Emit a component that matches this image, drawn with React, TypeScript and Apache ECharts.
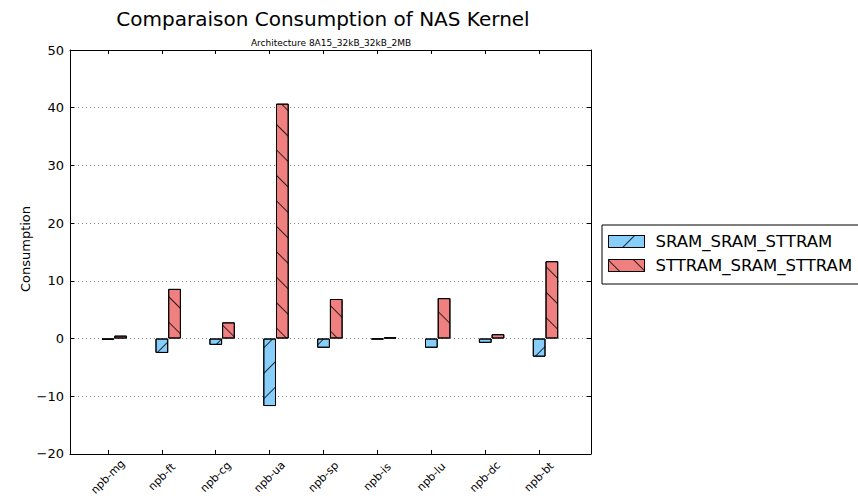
import React, { useEffect, useRef } from "react";
import * as echarts from "echarts";

const categories = ["npb-mg", "npb-ft", "npb-cg", "npb-ua", "npb-sp", "npb-is", "npb-lu", "npb-dc", "npb-bt"];
const sramValues = [-0.2, -2.5, -1.1, -11.7, -1.6, -0.15, -1.6, -0.75, -3.15];
const sttramValues = [0.5, 8.6, 2.8, 40.7, 6.85, 0.2, 7.0, 0.75, 13.4];
const seriesNames = ["SRAM_SRAM_STTRAM", "STTRAM_SRAM_STTRAM"];
const titleText = "Comparaison Consumption of NAS Kernel";
const subtitleText = "Architecture 8A15_32kB_32kB_2MB";
const yAxisTitle = "Consumption";

const FONT = "DejaVu Sans";
const TICK_SHIFT = -0.118;

export default function App() {
  const ref = useRef<HTMLDivElement>(null);
  useEffect(() => {
    if (!ref.current) return;
    const chart = echarts.init(ref.current, undefined, { renderer: "svg" });
    const tickValues = categories.map((_, i) => i + TICK_SHIFT);
    const labelFor = (v: number) => {
      const idx = Math.round(v - TICK_SHIFT);
      return categories[idx] ?? "";
    };
    const xMin = -0.822;
    const xMax = 8.844;
    const decal = (rot: number) => ({
      symbol: "rect",
      symbolSize: 1,
      color: "rgba(0,0,0,0.8)",
      dashArrayX: [1, 0],
      dashArrayY: [1, 17],
      rotation: rot,
    });
    chart.setOption({
      animation: false,
      backgroundColor: "#fff",
      textStyle: { fontFamily: FONT },
      grid: { left: 70, right: 267, top: 50, bottom: 42 },
      graphic: [
        {
          type: "text",
          x: 323,
          y: 19,
          style: { text: titleText, fontSize: 20, fontFamily: FONT, fill: "#000", align: "center", verticalAlign: "middle" },
        },
        {
          type: "text",
          x: 331,
          y: 43,
          style: { text: subtitleText, fontSize: 9, fontFamily: FONT, fill: "#000", align: "center", verticalAlign: "middle" },
        },
        {
          type: "text",
          x: 25,
          y: 249,
          rotation: Math.PI / 2,
          style: { text: yAxisTitle, fontSize: 13, fontFamily: FONT, fill: "#000", align: "center", verticalAlign: "middle" },
        },
      ],
      legend: {
        orient: "vertical",
        left: 602,
        top: 225,
        borderColor: "#000",
        borderWidth: 1,
        backgroundColor: "#fff",
        padding: [8, 14, 10, 6],
        itemWidth: 36,
        itemHeight: 12,
        itemGap: 7,
        icon: "rect",
        itemStyle: { borderColor: "#000", borderWidth: 1 },
        textStyle: { fontSize: 16.5, fontFamily: FONT, color: "#000", padding: [0, 0, 0, 6], lineHeight: 16 },
        data: seriesNames,
      },
      xAxis: [
        {
          type: "value",
          position: "bottom",
          min: xMin,
          max: xMax,
          axisLine: { show: true, onZero: false, lineStyle: { color: "#000", width: 1 } },
          axisTick: { show: true, inside: true, length: 4, customValues: tickValues, lineStyle: { color: "#000" } },
          axisLabel: {
            show: true,
            customValues: tickValues,
            formatter: (v: number) => labelFor(v),
            rotate: 45,
            align: "center",
            verticalAlign: "middle",
            margin: 23,
            fontSize: 11,
            fontFamily: FONT,
            color: "#000",
          },
          splitLine: { show: false },
        },
        {
          type: "value",
          position: "top",
          min: xMin,
          max: xMax,
          axisLine: { show: true, onZero: false, lineStyle: { color: "#000", width: 1 } },
          axisTick: { show: true, inside: true, length: 4, customValues: tickValues, lineStyle: { color: "#000" } },
          axisLabel: { show: false },
          splitLine: { show: false },
        },
      ],
      yAxis: [
        {
          type: "value",
          position: "left",
          min: -20,
          max: 50,
          interval: 10,
          axisLine: { show: true, onZero: false, lineStyle: { color: "#000", width: 1 } },
          axisTick: { show: true, inside: true, length: 4, lineStyle: { color: "#000" } },
          axisLabel: {
            margin: 6,
            fontSize: 13,
            fontFamily: FONT,
            color: "#000",
            formatter: (v: number) => String(v).replace("-", "\u2212"),
          },
          splitLine: {
            show: true,
            lineStyle: { color: "#888", type: [1, 3], width: 1 },
          },
        },
        {
          type: "value",
          position: "right",
          min: -20,
          max: 50,
          interval: 10,
          axisLine: { show: true, onZero: false, lineStyle: { color: "#000", width: 1 } },
          axisTick: { show: true, inside: true, length: 4, lineStyle: { color: "#000" } },
          axisLabel: { show: false },
          splitLine: { show: false },
        },
      ],
      series: [
        {
          name: seriesNames[0],
          type: "bar",
          xAxisIndex: 0,
          yAxisIndex: 0,
          barWidth: 12.7,
          barGap: "0%",
          data: sramValues.map((v, i) => [i, v]),
          itemStyle: { color: "#87CEFA", borderColor: "#000", borderWidth: 1, decal: decal(-Math.PI / 4) },
        },
        {
          name: seriesNames[1],
          type: "bar",
          xAxisIndex: 0,
          yAxisIndex: 0,
          barWidth: 12.7,
          barGap: "0%",
          data: sttramValues.map((v, i) => [i, v]),
          itemStyle: { color: "#F08080", borderColor: "#000", borderWidth: 1, decal: decal(Math.PI / 4) },
        },
      ],
    });
    return () => chart.dispose();
  }, []);
  return <div ref={ref} style={{ width: 858, height: 498, position: "absolute", left: 0, top: 0 }} />;
}
